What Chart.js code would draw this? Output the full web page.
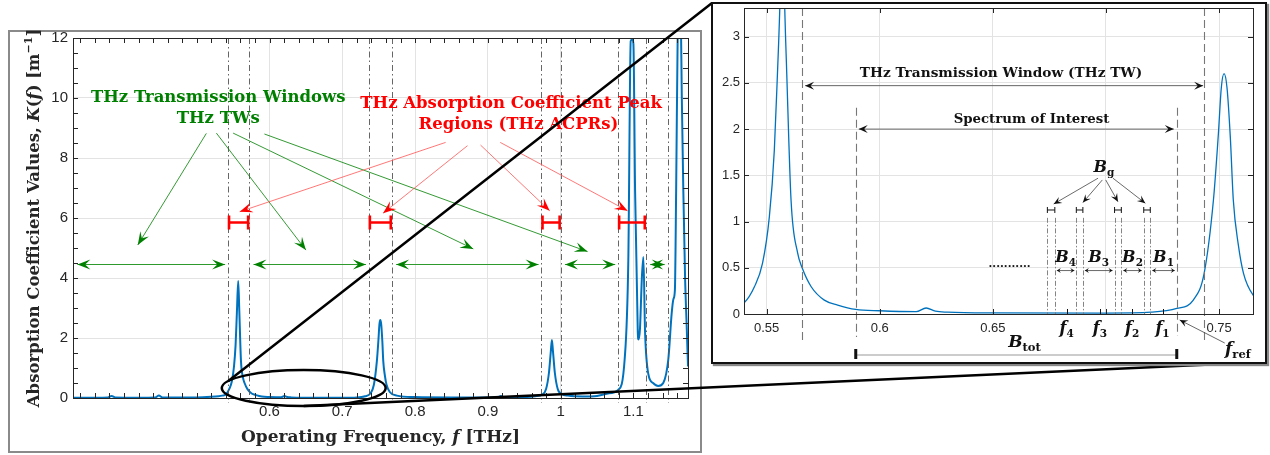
<!DOCTYPE html>
<html>
<head>
<meta charset="utf-8">
<script src="https://cdn.jsdelivr.net/npm/chart.js@4.4.1/dist/chart.umd.min.js"></script>
<style>
html, body { margin: 0; padding: 0; background: #fff; }
#wrap { position: relative; width: 1270px; height: 455px; overflow: hidden; }
#mainChart { position: absolute; left: 0; top: 0; }
#zoomBox { position: absolute; left: 711px; top: 2px; width: 552px; height: 358px;
  border: 2px solid #111; box-shadow: 2px 2px 1px #888; background: #fff; }
#zoomChart { display: block; }
</style>
</head>
<body>
<div id="wrap">
  <canvas id="mainChart" width="1270" height="455"></canvas>
  <div id="zoomBox"><canvas id="zoomChart" width="552" height="358"></canvas></div>
</div>
<script>
// absorption spectrum (THz, 1/m)
const freqTHz = [0.33, 0.36, 0.378, 0.383, 0.388, 0.42, 0.443, 0.448, 0.453, 0.50, 0.52, 0.53, 0.535,
  0.54, 0.5446, 0.5482, 0.5512, 0.5534, 0.5552, 0.557, 0.5585, 0.5608, 0.5637, 0.5657, 0.5697, 0.5755,
  0.5814, 0.5894, 0.60, 0.6161, 0.6205, 0.6246, 0.63, 0.65, 0.70, 0.72, 0.7313, 0.7386, 0.7434, 0.7475,
  0.7497, 0.751, 0.7522, 0.7535, 0.755, 0.7563, 0.7585, 0.7608, 0.7652, 0.775, 0.80, 0.85, 0.90, 0.914,
  0.918, 0.922, 0.95, 0.965, 0.975, 0.98, 0.984, 0.9865, 0.988, 0.9895, 0.992, 0.996, 1.002, 1.01, 1.03,
  1.05, 1.065, 1.079, 1.088, 1.093, 1.0963, 1.0985, 1.1, 1.1023, 1.106, 1.107, 1.109, 1.1116, 1.1137,
  1.116, 1.1205, 1.127, 1.134, 1.141, 1.148, 1.1525, 1.155, 1.157, 1.1587, 1.161, 1.163, 1.165, 1.1665,
  1.1685, 1.171, 1.1732, 1.175];
const absCoef = [0.01, 0.012, 0.02, 0.07, 0.02, 0.012, 0.02, 0.08, 0.02, 0.02, 0.04, 0.06, 0.08,
  0.12, 0.295, 0.55, 1.05, 1.77, 2.86, 3.9, 2.9, 1.23, 0.66, 0.5, 0.295, 0.15,
  0.097, 0.05, 0.035, 0.025, 0.065, 0.03, 0.02, 0.012, 0.01, 0.02, 0.06, 0.15, 0.44, 1.23,
  1.95, 2.45, 2.6, 2.45, 1.9, 1.23, 0.75, 0.44, 0.2, 0.08, 0.03, 0.02, 0.02, 0.025,
  0.07, 0.025, 0.03, 0.06, 0.12, 0.3, 0.85, 1.55, 1.93, 1.55, 0.85, 0.3, 0.13, 0.08, 0.05,
  0.07, 0.15, 0.27, 1.3, 4.6, 11.9, 11.95, 11.8, 6.9, 2.2, 1.95, 2.3, 4.0, 4.7,
  2.2, 0.8, 0.5, 0.4, 0.5, 1.3, 2.8, 3.3, 3.6, 6.9, 12.5, 14, 13, 10,
  7, 4, 2.4, 1.05];

const mainXTicks = [0.6, 0.7, 0.8, 0.9, 1, 1.1];
const mainYTicks = [0, 2, 4, 6, 8, 10, 12];
const zoomXTicks = [0.55, 0.6, 0.65, 0.7, 0.75];
const zoomXLabels = ['0.55', '0.6', '0.65', '', '0.75'];
const zoomYTicks = [0, 0.5, 1, 1.5, 2, 2.5, 3];

// band edges (THz)
const boundaryLines = [0.543, 0.572, 0.7365, 0.768, 0.9737, 1.0, 1.079, 1.117, 1.147];
const acprBands = [[0.543, 0.572], [0.7365, 0.768], [0.9737, 1.0], [1.079, 1.117]];
const twBands = [[0.33, 0.543], [0.572, 0.7365], [0.768, 0.9737], [1.0, 1.079], [1.117, 1.147]];
const twEdges = [0.5657, 0.7434];
const soiEdges = [0.5894, 0.7313];
const guardBands = [[0.6741, 0.6774], [0.6869, 0.6898], [0.7038, 0.7068], [0.7167, 0.7196]];
const subBands = [[0.6774, 0.6869], [0.6898, 0.7038], [0.7068, 0.7167], [0.7196, 0.7313]];
const subBandNames = ['4', '3', '2', '1'];
const centreFreqs = [0.6826, 0.6973, 0.7116, 0.725];

const BLUE = '#0072BD';
const GREEN = '#008000';
const RED = '#ff0000';
const AXIS = '#262626';
const SERIF = '"DejaVu Serif", serif';
const fb = s => 'bold ' + s + 'px ' + SERIF;
const fbi = s => 'italic bold ' + s + 'px ' + SERIF;

function drawRich(ctx, segs, x, y, align) {
    let w = 0;
    segs.forEach(s => { ctx.font = s.f; s.w = ctx.measureText(s.t).width; w += s.w; });
    let cx = align === 'center' ? x - w / 2 : (align === 'right' ? x - w : x);
    ctx.textAlign = 'left';
    ctx.textBaseline = 'alphabetic';
    segs.forEach(s => { ctx.font = s.f; ctx.fillText(s.t, cx, y + (s.dy || 0)); cx += s.w; });
}

function head(ctx, x1, y1, x2, y2, len, half, color) {
    const a = Math.atan2(y2 - y1, x2 - x1), c = Math.cos(a), s = Math.sin(a);
    ctx.fillStyle = color;
    ctx.beginPath();
    ctx.moveTo(x2, y2);
    ctx.lineTo(x2 - len * c + half * s, y2 - len * s - half * c);
    ctx.lineTo(x2 - 0.6 * len * c, y2 - 0.6 * len * s);
    ctx.lineTo(x2 - len * c - half * s, y2 - len * s + half * c);
    ctx.closePath();
    ctx.fill();
}

function arrow(ctx, x1, y1, x2, y2, o) {
    ctx.setLineDash([]);
    ctx.strokeStyle = o.line || o.color;
    ctx.lineWidth = o.width;
    ctx.beginPath();
    ctx.moveTo(x1, y1);
    ctx.lineTo(x2, y2);
    ctx.stroke();
    head(ctx, x1, y1, x2, y2, o.len, o.half, o.color);
    if (o.both) head(ctx, x2, y2, x1, y1, o.len, o.half, o.color);
}

function vline(ctx, x, y1, y2, dash, color, width) {
    ctx.setLineDash(dash);
    ctx.strokeStyle = color;
    ctx.lineWidth = width;
    ctx.beginPath();
    ctx.moveTo(Math.round(x) + 0.5, y1);
    ctx.lineTo(Math.round(x) + 0.5, y2);
    ctx.stroke();
    ctx.setLineDash([]);
}

function span(ctx, x1, x2, y, cap, color, width) {
    ctx.strokeStyle = color;
    ctx.lineWidth = width;
    ctx.beginPath();
    ctx.moveTo(x1, y); ctx.lineTo(x2, y);
    ctx.moveTo(x1, y - cap); ctx.lineTo(x1, y + cap);
    ctx.moveTo(x2, y - cap); ctx.lineTo(x2, y + cap);
    ctx.stroke();
}

// inward ticks + box like matlab axes
function drawBox(ctx, area, xs, ys, xVals, yVals, len) {
    ctx.setLineDash([]);
    ctx.strokeStyle = AXIS;
    ctx.lineWidth = 1;
    ctx.beginPath();
    xVals.forEach(v => {
        const p = Math.round(xs.getPixelForValue(v)) + 0.5;
        ctx.moveTo(p, area.bottom); ctx.lineTo(p, area.bottom - len);
        ctx.moveTo(p, area.top); ctx.lineTo(p, area.top + len);
    });
    yVals.forEach(v => {
        const p = Math.round(ys.getPixelForValue(v)) + 0.5;
        ctx.moveTo(area.left, p); ctx.lineTo(area.left + len, p);
        ctx.moveTo(area.right, p); ctx.lineTo(area.right - len, p);
    });
    ctx.stroke();
    ctx.strokeRect(Math.round(area.left) + 0.5, Math.round(area.top) + 0.5,
        Math.round(area.right - area.left), Math.round(area.bottom - area.top));
}

function steps(from, to, step) {
    const out = [];
    for (let v = from; v <= to + 1e-9; v += step) out.push(+v.toFixed(4));
    return out;
}

const points = freqTHz.map((f, i) => ({ x: f, y: absCoef[i] }));

const mainNotes = {
    id: 'mainNotes',
    beforeDraw(chart) {
        const ctx = chart.ctx;
        ctx.save();
        ctx.fillStyle = '#fff';
        ctx.fillRect(0, 0, chart.width, chart.height);
        ctx.strokeStyle = '#8a8a8a';
        ctx.lineWidth = 2;
        ctx.strokeRect(9, 31, 692, 421);
        ctx.restore();
    },
    afterDatasetsDraw(chart) {
        const ctx = chart.ctx, a = chart.chartArea;
        const xs = chart.scales.x, ys = chart.scales.y;
        const X = v => xs.getPixelForValue(v), Y = v => ys.getPixelForValue(v);
        ctx.save();
        boundaryLines.forEach(f => vline(ctx, X(f), a.top, a.bottom + 5, [6, 3, 1.5, 3], '#555', 0.9));

        // red ACPR markers
        acprBands.forEach(b => span(ctx, X(b[0]) + 1, X(b[1]) - 1, Y(5.85), 7, RED, 2.6));

        // green TW double arrows
        const ga = { color: GREEN, line: '#2e9a2e', width: 1.1, len: 13, half: 5, both: true };
        twBands.forEach(b => arrow(ctx, X(b[0] + 0.006), Y(4.45), X(b[1] - 0.004), Y(4.45), ga));

        // labels
        ctx.fillStyle = GREEN;
        drawRich(ctx, [{ t: 'THz Transmission Windows', f: fb(16.5) }], X(0.5295), Y(10.08) + 6, 'center');
        drawRich(ctx, [{ t: 'THz TWs', f: fb(16.5) }], X(0.5295), Y(9.38) + 6, 'center');
        ctx.fillStyle = RED;
        drawRich(ctx, [{ t: 'THz Absorption Coefficient Peak', f: fb(16.5) }], X(0.932), Y(9.88) + 6, 'center');
        drawRich(ctx, [{ t: 'Regions (THz ACPRs)', f: fb(16.5) }], X(0.942), Y(9.18) + 6, 'center');

        const gp = { color: GREEN, width: 0.8, len: 13, half: 5 };
        [[0.5132, 8.82, 0.419, 5.1], [0.527, 8.83, 0.650, 4.93], [0.550, 8.83, 0.880, 4.97], [0.593, 8.8, 1.037, 4.88]]
            .forEach(p => arrow(ctx, X(p[0]), Y(p[1]), X(p[2]), Y(p[3]), gp));
        const rp = { color: RED, line: '#ff5555', width: 0.8, len: 13, half: 5 };
        [[0.842, 8.52, 0.559, 6.21], [0.872, 8.41, 0.756, 6.16], [0.890, 8.43, 0.985, 6.24], [0.917, 8.52, 1.092, 6.24]]
            .forEach(p => arrow(ctx, X(p[0]), Y(p[1]), X(p[2]), Y(p[3]), rp));
        ctx.restore();
    },
    afterDraw(chart) {
        const ctx = chart.ctx, a = chart.chartArea;
        const xs = chart.scales.x, ys = chart.scales.y;
        const X = v => xs.getPixelForValue(v), Y = v => ys.getPixelForValue(v);
        ctx.save();
        drawBox(ctx, a, xs, ys, steps(0.34, 1.16, 0.02), steps(0, 12, 0.5), 5);

        // axis titles
        ctx.fillStyle = AXIS;
        drawRich(ctx, [{ t: 'Operating Frequency, ', f: fb(17) }, { t: 'f', f: fbi(17) }, { t: ' [THz]', f: fb(17) }],
            (a.left + a.right) / 2, 442, 'center');
        ctx.save();
        ctx.translate(39, (a.top + a.bottom) / 2);
        ctx.rotate(-Math.PI / 2);
        drawRich(ctx, [{ t: 'Absorption Coefficient Values, ', f: fb(16.5) }, { t: 'K', f: fbi(16.5) },
            { t: '(', f: fb(16.5) }, { t: 'f', f: fbi(16.5) }, { t: ') [m', f: fb(16.5) },
            { t: '\u22121', f: fb(11), dy: -7 }, { t: ']', f: fb(16.5) }], 0, 0, 'center');
        ctx.restore();

        // zoom ellipse and connector lines to the inset
        const cx = X(0.647), cy = Y(0.33);
        const rx = X(0.647 + 0.1126) - cx, ry = cy - Y(0.33 + 0.6);
        ctx.strokeStyle = '#000';
        ctx.lineWidth = 2.5;
        ctx.beginPath();
        ctx.ellipse(cx, cy, rx, ry, 0, 0, Math.PI * 2);
        ctx.stroke();
        const box = document.getElementById('zoomBox');
        const bx1 = box.offsetLeft, by1 = box.offsetTop;
        const bx2 = bx1 + box.offsetWidth, by2 = by1 + box.offsetHeight;
        const t1 = 203 * Math.PI / 180;
        ctx.beginPath();
        ctx.moveTo(cx + rx * Math.cos(t1), cy + ry * Math.sin(t1));
        ctx.lineTo(bx1 + 1, by1 + 1);
        ctx.moveTo(cx, cy + ry);
        ctx.lineTo(bx2 - 2, by2 - 2);
        ctx.stroke();
        ctx.restore();
    }
};

const zoomNotes = {
    id: 'zoomNotes',
    afterDatasetsDraw(chart) {
        const ctx = chart.ctx, a = chart.chartArea;
        const xs = chart.scales.x, ys = chart.scales.y;
        const X = v => xs.getPixelForValue(v), Y = v => ys.getPixelForValue(v);
        ctx.save();
        const dash = [8, 4];
        vline(ctx, X(twEdges[0]), a.top, a.bottom + 26, dash, '#777', 1.1);
        vline(ctx, X(twEdges[1]), a.top, a.bottom + 26, dash, '#777', 1.1);
        vline(ctx, X(soiEdges[0]), Y(2.23), a.bottom + 23, dash, '#777', 1.1);
        vline(ctx, X(soiEdges[1]), Y(2.23), a.bottom + 22, dash, '#777', 1.1);

        guardBands.forEach(g => {
            vline(ctx, X(g[0]), Y(1.04), a.bottom, [5, 2, 1.5, 2], '#777', 0.9);
            vline(ctx, X(g[1]), Y(1.04), a.bottom, [5, 2, 1.5, 2], '#777', 0.9);
            span(ctx, X(g[0]), X(g[1]), Y(1.125), 3, '#111', 1);
        });

        const big = { color: '#111', line: '#666', width: 1, len: 9, half: 4, both: true };
        arrow(ctx, X(twEdges[0]) + 3, Y(2.47), X(twEdges[1]) - 1, Y(2.47), big);
        arrow(ctx, X(soiEdges[0]) + 3, Y(2.0), X(soiEdges[1]) - 3, Y(2.0), big);

        ctx.fillStyle = '#111';
        drawRich(ctx, [{ t: 'THz Transmission Window (THz TW)', f: fb(13.7) }], X(0.6536), Y(2.62) + 5, 'center');
        drawRich(ctx, [{ t: 'Spectrum of Interest', f: fb(13.3) }], X(0.6671), Y(2.12) + 5, 'center');

        // guard band label and pointers
        drawRich(ctx, [{ t: 'B', f: fbi(16) }, { t: 'g', f: fb(10.5), dy: 4 }], X(0.6991), Y(1.59) + 5, 'center');
        const bp = { color: '#111', line: '#444', width: 0.8, len: 8, half: 3.5 };
        [[0.6965, 1.469, 0.6769, 1.19], [0.6984, 1.45, 0.6898, 1.205], [0.6999, 1.45, 0.7053, 1.215], [0.7031, 1.469, 0.7174, 1.198]]
            .forEach(p => arrow(ctx, X(p[0]), Y(p[1]), X(p[2]), Y(p[3]), bp));

        // sub-band widths
        const sb = { color: '#111', line: '#444', width: 0.8, len: 4, half: 2.5, both: true };
        subBands.forEach((b, i) => {
            arrow(ctx, X(b[0]) + 2, Y(0.47), X(b[1]) - 2, Y(0.47), sb);
            ctx.fillStyle = '#111';
            drawRich(ctx, [{ t: 'B', f: fbi(16) }, { t: subBandNames[i], f: fb(10.5), dy: 4 }],
                X((b[0] + b[1]) / 2), Y(0.62) + 5, 'center');
        });
        ctx.fillStyle = '#111';
        drawRich(ctx, [{ t: '...........', f: fb(11) }], X(0.6574), Y(0.53) + 2, 'center');

        // centre frequencies on the axis
        ctx.strokeStyle = '#111';
        ctx.lineWidth = 1;
        ctx.beginPath();
        centreFreqs.forEach(f => {
            const p = Math.round(X(f)) + 0.5;
            ctx.moveTo(p, a.bottom); ctx.lineTo(p, a.bottom - 5);
        });
        ctx.stroke();
        centreFreqs.forEach((f, i) => drawRich(ctx, [{ t: 'f', f: fbi(16) }, { t: subBandNames[i], f: fb(10.5), dy: 4 }],
            X(f), a.bottom + 19, 'center'));

        // total bandwidth bar
        const by = a.bottom + 41;
        ctx.strokeStyle = '#999';
        ctx.lineWidth = 1.2;
        ctx.beginPath();
        ctx.moveTo(X(soiEdges[0]), by); ctx.lineTo(X(soiEdges[1]), by);
        ctx.stroke();
        ctx.strokeStyle = '#111';
        ctx.lineWidth = 3;
        ctx.beginPath();
        ctx.moveTo(X(soiEdges[0]), by - 6); ctx.lineTo(X(soiEdges[0]), by + 4);
        ctx.moveTo(X(soiEdges[1]), by - 6); ctx.lineTo(X(soiEdges[1]), by + 4);
        ctx.stroke();
        ctx.fillStyle = '#111';
        drawRich(ctx, [{ t: 'B', f: fbi(17) }, { t: 'tot', f: fb(11.5), dy: 4 }], X(0.664), a.bottom + 33, 'center');

        // reference frequency
        arrow(ctx, X(0.7525), a.bottom + 29, X(0.7326), a.bottom + 6, bp);
        drawRich(ctx, [{ t: 'f', f: fbi(17) }, { t: 'ref', f: fb(11.5), dy: 4 }], X(0.7583), a.bottom + 40, 'center');
        ctx.restore();
    },
    afterDraw(chart) {
        const ctx = chart.ctx;
        ctx.save();
        drawBox(ctx, chart.chartArea, chart.scales.x, chart.scales.y, zoomXTicks, zoomYTicks, 5);
        ctx.restore();
    }
};

function fixPad(scale) {
    scale.paddingLeft = 0; scale.paddingRight = 0;
    scale.paddingTop = 0; scale.paddingBottom = 0;
}

new Chart(document.getElementById('mainChart'), {
    type: 'line',
    data: { datasets: [{ data: points, borderColor: BLUE, borderWidth: 2, pointRadius: 0,
        cubicInterpolationMode: 'monotone' }] },
    options: {
        responsive: false,
        animation: false,
        layout: { padding: { left: 0, top: 38, right: 582, bottom: 0 } },
        plugins: { legend: { display: false }, tooltip: { enabled: false } },
        scales: {
            x: {
                type: 'linear', min: 0.33, max: 1.175,
                afterBuildTicks: s => { s.ticks = mainXTicks.map(v => ({ value: v })); },
                afterFit: s => { s.height = 57; fixPad(s); },
                ticks: { callback: v => String(v), font: { family: 'Liberation Sans', size: 15 }, color: AXIS, padding: 5, maxRotation: 0 },
                grid: { color: '#e3e3e3', drawTicks: false },
                border: { color: AXIS }
            },
            y: {
                min: 0, max: 12,
                afterBuildTicks: s => { s.ticks = mainYTicks.map(v => ({ value: v })); },
                afterFit: s => { s.width = 73; fixPad(s); },
                ticks: { callback: v => String(v), font: { family: 'Liberation Sans', size: 15 }, color: AXIS, padding: 5 },
                grid: { color: '#e3e3e3', drawTicks: false },
                border: { color: AXIS }
            }
        }
    },
    plugins: [mainNotes]
});

new Chart(document.getElementById('zoomChart'), {
    type: 'line',
    data: { datasets: [{ data: points, borderColor: BLUE, borderWidth: 1.3, pointRadius: 0,
        cubicInterpolationMode: 'monotone' }] },
    options: {
        responsive: false,
        animation: false,
        layout: { padding: { left: 0, top: 4, right: 12, bottom: 0 } },
        plugins: { legend: { display: false }, tooltip: { enabled: false } },
        scales: {
            x: {
                type: 'linear', min: 0.54, max: 0.765,
                afterBuildTicks: s => { s.ticks = zoomXTicks.map(v => ({ value: v })); },
                afterFit: s => { s.height = 48; fixPad(s); },
                ticks: { callback: (v, i) => zoomXLabels[i], font: { family: 'Liberation Sans', size: 13 }, color: AXIS, padding: 7, maxRotation: 0, autoSkip: false },
                grid: { color: '#e3e3e3', drawTicks: false },
                border: { color: AXIS }
            },
            y: {
                min: 0, max: 3.31,
                afterBuildTicks: s => { s.ticks = zoomYTicks.map(v => ({ value: v })); },
                afterFit: s => { s.width = 31; fixPad(s); },
                ticks: { callback: v => String(v), font: { family: 'Liberation Sans', size: 13 }, color: AXIS, padding: 4 },
                grid: { color: '#e3e3e3', drawTicks: false },
                border: { color: AXIS }
            }
        }
    },
    plugins: [zoomNotes]
});
</script>
</body>
</html>
